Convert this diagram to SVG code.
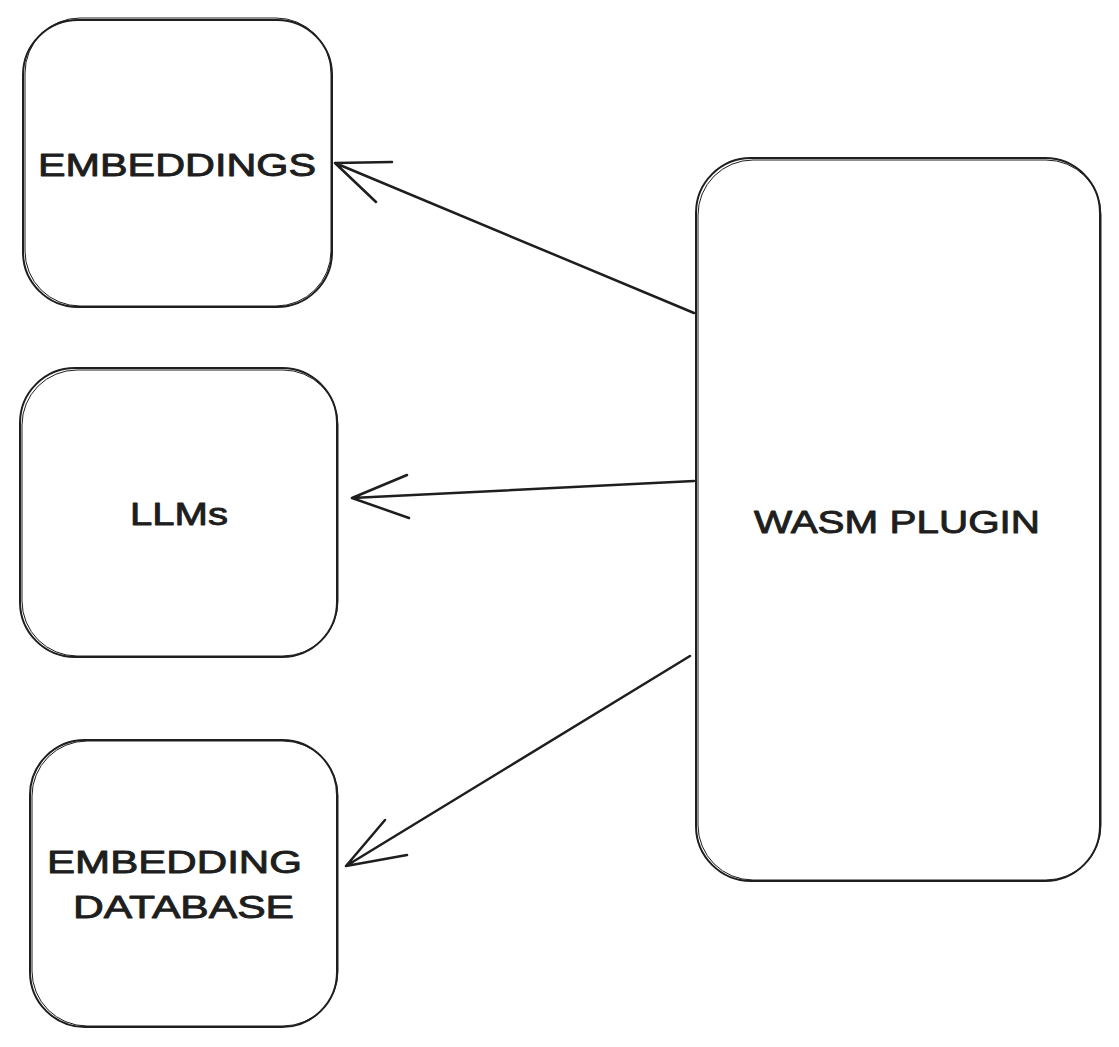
<svg xmlns="http://www.w3.org/2000/svg" width="1119" height="1047" viewBox="0 0 1119 1047">
<style>
.box{fill:#ffffff;stroke:#1e1e1e;stroke-width:2}
.box2{fill:none;stroke:#1e1e1e;stroke-width:1}
.lbl{font-family:"Liberation Sans",sans-serif;font-size:32px;fill:#1e1e1e;stroke:#1e1e1e;stroke-width:0.9;stroke-linejoin:round;text-anchor:start}
.edge{fill:none;stroke:#1e1e1e;stroke-width:2.5;stroke-linecap:round}
</style>
<rect width="1119" height="1047" fill="#ffffff"/>
<g id="embeddings">
<rect class="box" x="23" y="20" width="309" height="287" rx="55"/>
<rect class="box2" x="25" y="18" width="306" height="288" rx="55"/>
<text class="lbl" x="38" y="176" textLength="278" lengthAdjust="spacingAndGlyphs">EMBEDDINGS</text>
</g>
<g id="llms">
<rect class="box" x="20" y="368" width="317" height="289" rx="55"/>
<rect class="box2" x="22" y="370" width="316" height="286" rx="55"/>
<text class="lbl" x="130" y="525" textLength="98" lengthAdjust="spacingAndGlyphs">LLMs</text>
</g>
<g id="embedding-database">
<rect class="box" x="30" y="740" width="307" height="287" rx="55"/>
<rect class="box2" x="32" y="741" width="306" height="285" rx="55"/>
<text class="lbl" x="47" y="873" textLength="255" lengthAdjust="spacingAndGlyphs">EMBEDDING</text>
<text class="lbl" x="73" y="918" textLength="221" lengthAdjust="spacingAndGlyphs">DATABASE</text>
</g>
<g id="wasm-plugin">
<rect class="box" x="696" y="158" width="404" height="723" rx="55"/>
<rect class="box2" x="698" y="160" width="403" height="720" rx="55"/>
<text class="lbl" x="754" y="533" textLength="286" lengthAdjust="spacingAndGlyphs">WASM PLUGIN</text>
</g>
<g id="connectors">
<path class="edge" d="M694 313 L335 163 M335 163 L392 162 M335 163 L376 202"/>
<path class="edge" d="M694 481 L352 498 M352 498 L407 475 M352 498 L409 518"/>
<path class="edge" d="M690 656 L346 866 M346 866 L385 820 M346 866 L407 855"/>
</g>
</svg>
